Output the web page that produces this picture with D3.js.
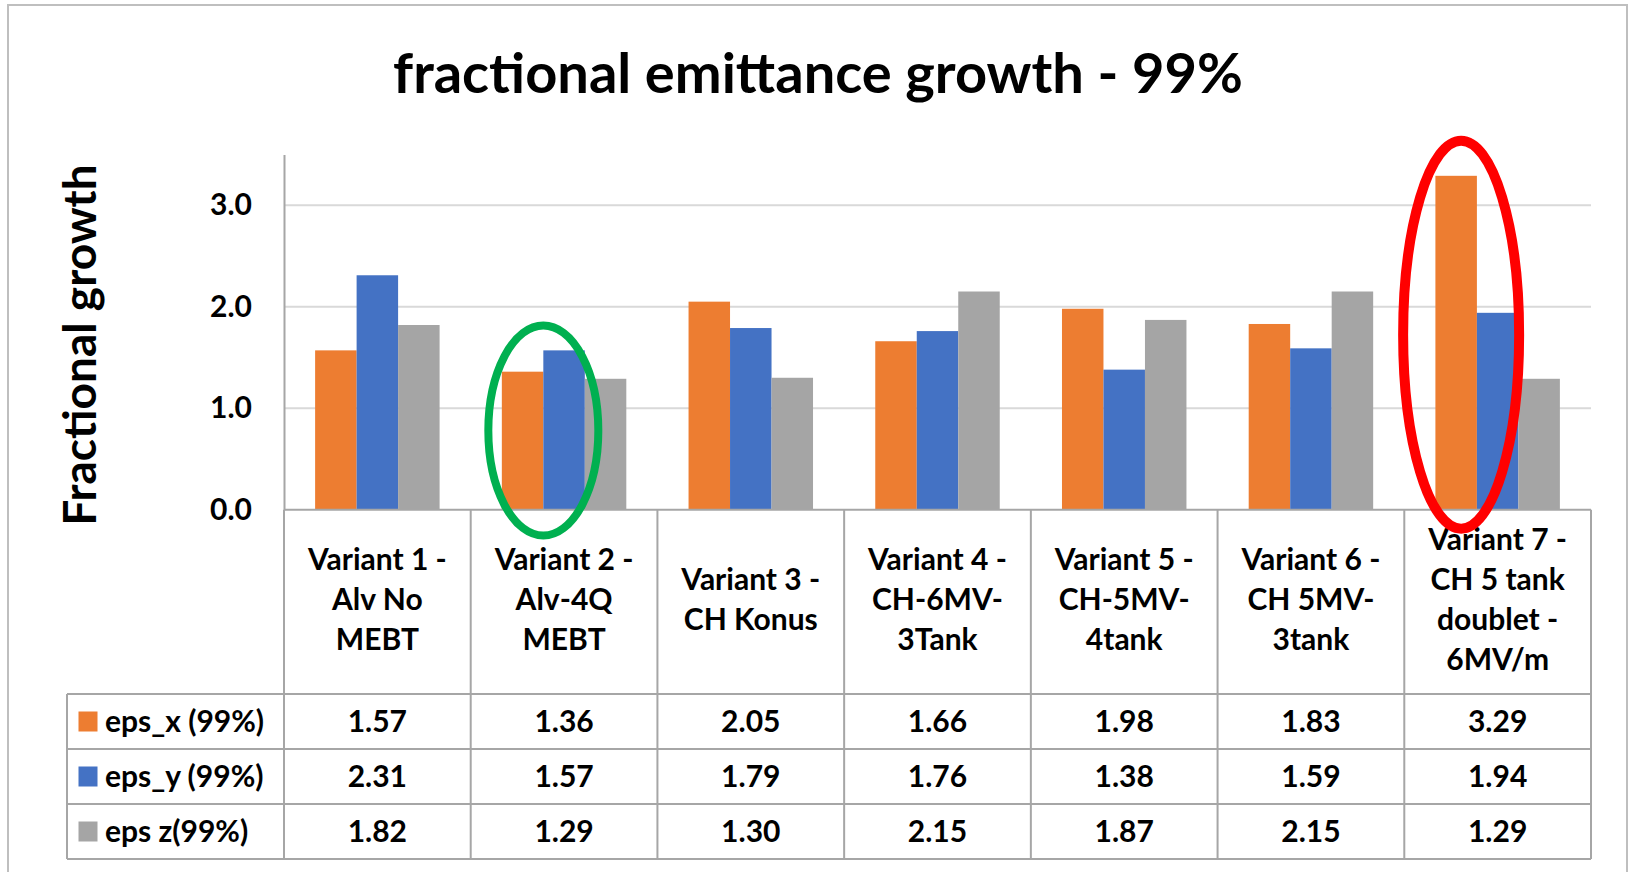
<!DOCTYPE html>
<html>
<head>
<meta charset="utf-8">
<script src="https://cdn.jsdelivr.net/npm/d3@7"></script>
<style>
    body { margin: 0; background: #fff; }
    svg text { font-family: Lato, "Open Sans", sans-serif; font-weight: bold; fill: #000; }
</style>
</head>
<body>
<svg id="chart"></svg>
<script>
// categories, each one already split into the lines the header cell shows
const categories = ["Variant 1 - Alv No MEBT", "Variant 2 - Alv-4Q MEBT", "Variant 3 - CH Konus",
    "Variant 4 - CH-6MV-3Tank", "Variant 5 - CH-5MV-4tank", "Variant 6 - CH 5MV-3tank",
    "Variant 7 - CH 5 tank doublet - 6MV/m"];
const categoryLines = [
    ["Variant 1 -", "Alv No", "MEBT"],
    ["Variant 2 -", "Alv-4Q", "MEBT"],
    ["Variant 3 -", "CH Konus"],
    ["Variant 4 -", "CH-6MV-", "3Tank"],
    ["Variant 5 -", "CH-5MV-", "4tank"],
    ["Variant 6 -", "CH 5MV-", "3tank"],
    ["Variant 7 -", "CH 5 tank", "doublet -", "6MV/m"]
];
const seriesNames = ["eps_x (99%)", "eps_y (99%)", "eps z(99%)"];
const epsX = [1.57, 1.36, 2.05, 1.66, 1.98, 1.83, 3.29];
const epsY = [2.31, 1.57, 1.79, 1.76, 1.38, 1.59, 1.94];
const epsZ = [1.82, 1.29, 1.30, 2.15, 1.87, 2.15, 1.29];
const yTicks = [0, 1, 2, 3];

const colors = ["#ED7D31", "#4472C4", "#A5A5A5"];
const seriesValues = [epsX, epsY, epsZ];

const width = 1629;
const height = 872;

const svg = d3.select("#chart")
    .attr("width", width)
    .attr("height", height);

// outer chart frame
svg.append("rect")
    .attr("x", 8).attr("y", 5)
    .attr("width", 1619).attr("height", 900)
    .attr("fill", "none")
    .attr("stroke", "#BFBFBF")
    .attr("stroke-width", 2);

const plot = { left: 284, right: 1591, top: 154.5, bottom: 509.7 };

const xScale = d3.scaleBand()
    .domain(categories)
    .range([plot.left, plot.right]);

const xSeries = d3.scaleBand()
    .domain(seriesNames)
    .range([0, xScale.bandwidth()])
    .paddingOuter(0.75);

const yScale = d3.scaleLinear()
    .domain([0, 3.5])
    .range([plot.bottom, plot.top]);

// gridlines
svg.append("g")
    .selectAll("line")
    .data(yTicks.filter(d => d > 0))
    .enter()
    .append("line")
    .attr("x1", plot.left)
    .attr("x2", plot.right)
    .attr("y1", d => yScale(d))
    .attr("y2", d => yScale(d))
    .attr("stroke", "#D9D9D9")
    .attr("stroke-width", 2);

// y axis
const yAxis = svg.append("g")
    .attr("transform", `translate(${plot.left},0)`)
    .call(d3.axisLeft(yScale).tickValues(yTicks).tickFormat(d3.format(".1f")).tickSize(0).tickPadding(32));
yAxis.select(".domain").attr("stroke", "#A6A6A6").attr("stroke-width", 2);
yAxis.selectAll("text")
    .style("font-size", "30px")
    .style("font-family", "Lato, sans-serif")
    .style("font-weight", "bold")
    .attr("fill", "#000");

// bars
const groups = svg.append("g")
    .selectAll("g")
    .data(categories)
    .enter()
    .append("g")
    .attr("transform", d => `translate(${xScale(d)},0)`);

groups.selectAll("rect")
    .data((d, i) => seriesNames.map((s, j) => ({ series: s, value: seriesValues[j][i], color: colors[j] })))
    .enter()
    .append("rect")
    .attr("x", d => xSeries(d.series))
    .attr("width", xSeries.bandwidth())
    .attr("y", d => yScale(d.value))
    .attr("height", d => yScale(0) - yScale(d.value))
    .attr("fill", d => d.color);

// data table below the plot
const tableTop = 694;
const rowH = 55;
const tableLeft = 67;
const gridColor = "#A6A6A6";

const table = svg.append("g");

// header cell borders
xScale.domain().concat([null]).forEach(c => {
    const xPos = c === null ? plot.right : xScale(c);
    table.append("line")
        .attr("x1", xPos).attr("x2", xPos)
        .attr("y1", plot.bottom).attr("y2", tableTop + rowH * seriesNames.length)
        .attr("stroke", gridColor).attr("stroke-width", 2);
});
table.append("line")
    .attr("x1", plot.left).attr("x2", plot.right)
    .attr("y1", plot.bottom).attr("y2", plot.bottom)
    .attr("stroke", gridColor).attr("stroke-width", 2);

d3.range(seriesNames.length + 1).forEach(r => {
    table.append("line")
        .attr("x1", tableLeft).attr("x2", plot.right)
        .attr("y1", tableTop + r * rowH).attr("y2", tableTop + r * rowH)
        .attr("stroke", gridColor).attr("stroke-width", 2);
});
table.append("line")
    .attr("x1", tableLeft).attr("x2", tableLeft)
    .attr("y1", tableTop).attr("y2", tableTop + rowH * seriesNames.length)
    .attr("stroke", gridColor).attr("stroke-width", 2);

// category headers
const headerMid = (plot.bottom + tableTop) / 2 - 2;
const lineH = 40;
categories.forEach((c, i) => {
    const lines = categoryLines[i];
    const t = table.append("text")
        .attr("text-anchor", "middle")
        .style("font-size", "30px");
    lines.forEach((l, k) => {
        t.append("tspan")
            .attr("x", xScale(c) + xScale.bandwidth() / 2)
            .attr("y", headerMid + (k - (lines.length - 1) / 2) * lineH)
            .attr("dy", "0.35em")
            .text(l);
    });
});

// rows: legend key + values
seriesNames.forEach((s, j) => {
    const cy = tableTop + j * rowH + rowH / 2;
    table.append("rect")
        .attr("x", 78.5).attr("y", cy - 10)
        .attr("width", 19).attr("height", 20)
        .attr("fill", colors[j]);
    table.append("text")
        .attr("x", 105).attr("y", cy)
        .attr("dy", "0.35em")
        .style("font-size", "30px")
        .text(s);
    categories.forEach((c, i) => {
        table.append("text")
            .attr("x", xScale(c) + xScale.bandwidth() / 2)
            .attr("y", cy)
            .attr("dy", "0.35em")
            .attr("text-anchor", "middle")
            .style("font-size", "30px")
            .text(seriesValues[j][i].toFixed(2));
    });
});

// title and axis label
svg.append("text")
    .attr("x", 818)
    .attr("y", 93)
    .attr("text-anchor", "middle")
    .style("font-size", "56px")
    .text("fractional emittance growth - 99%");

svg.append("text")
    .attr("transform", `translate(96,345) rotate(-90)`)
    .attr("text-anchor", "middle")
    .style("font-size", "46px")
    .text("Fractional growth");

// highlight ellipses
svg.append("ellipse")
    .attr("cx", xScale(categories[1]) + xSeries(seriesNames[1]))
    .attr("cy", yScale(0.78))
    .attr("rx", 55)
    .attr("ry", 105)
    .attr("fill", "none")
    .attr("stroke", "#00B050")
    .attr("stroke-width", 8);

svg.append("ellipse")
    .attr("cx", xScale(categories[6]) + xSeries(seriesNames[0]) + xSeries.bandwidth() * 0.62)
    .attr("cy", yScale(1.725))
    .attr("rx", 58)
    .attr("ry", 194)
    .attr("fill", "none")
    .attr("stroke", "#FF0000")
    .attr("stroke-width", 10);
</script>
</body>
</html>
